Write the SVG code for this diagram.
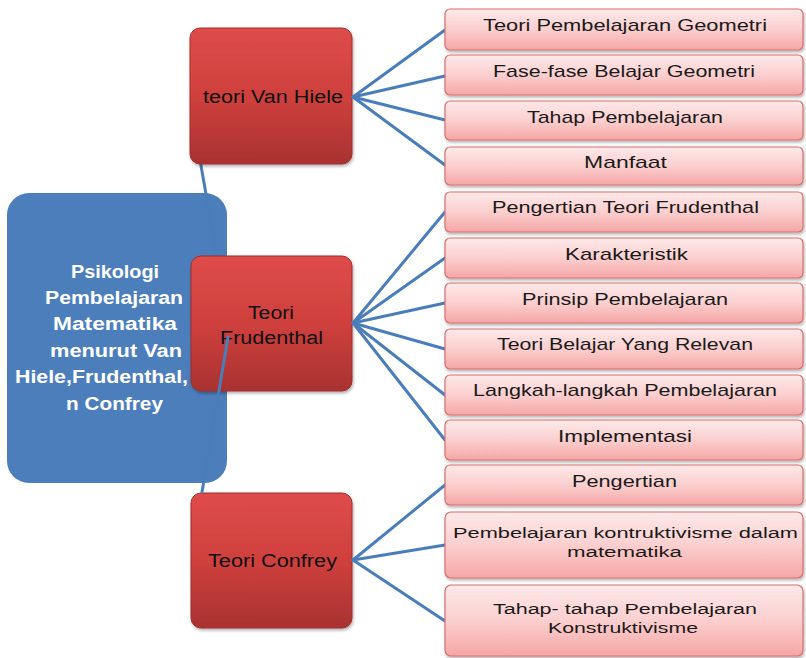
<svg xmlns="http://www.w3.org/2000/svg" width="806" height="658" viewBox="0 0 806 658">
<defs>
<linearGradient id="gRed" x1="0" y1="0" x2="0" y2="1">
<stop offset="0" stop-color="#de4d4a"/><stop offset="0.5" stop-color="#cf403d"/><stop offset="1" stop-color="#a93231"/>
</linearGradient>
<linearGradient id="gPink" x1="0" y1="0" x2="0" y2="1">
<stop offset="0" stop-color="#fde9e9"/><stop offset="0.5" stop-color="#fbcfcf"/><stop offset="1" stop-color="#f5a6a5"/>
</linearGradient>
<filter id="sh" x="-10%" y="-10%" width="130%" height="130%">
<feDropShadow dx="1" dy="2" stdDeviation="1.5" flood-color="#000" flood-opacity="0.3"/>
</filter>
</defs>
<style>
.root{fill:#4c7ebc}
.red{fill:url(#gRed);stroke:#9e2e2d;stroke-width:1;filter:url(#sh)}
.leaf{fill:url(#gPink);stroke:#d8706e;stroke-width:1.2;filter:url(#sh)}
.c{stroke:#4a7ebb;stroke-width:3;fill:none;stroke-linecap:round}
.rt{font-family:"Liberation Sans",Arial,sans-serif;font-weight:bold;font-size:18px;fill:#ffffff}
.mt{font-family:"Liberation Sans",Arial,sans-serif;font-size:18px;fill:#111111}
.lt{font-family:"Liberation Sans",Arial,sans-serif;font-size:17px;fill:#1a1a1a}
.lt2{font-family:"Liberation Sans",Arial,sans-serif;font-size:15.5px;fill:#1a1a1a}
</style>
<rect width="806" height="658" fill="#ffffff"/>

<g id="root">
<rect class="root" x="7" y="193" width="220" height="290" rx="22"/>
<text class="rt" x="71" y="278" textLength="88" lengthAdjust="spacingAndGlyphs">Psikologi</text>
<text class="rt" x="45" y="304" textLength="138" lengthAdjust="spacingAndGlyphs">Pembelajaran</text>
<text class="rt" x="53" y="330" textLength="124" lengthAdjust="spacingAndGlyphs">Matematika</text>
<text class="rt" x="50" y="357" textLength="132" lengthAdjust="spacingAndGlyphs">menurut Van</text>
<text class="rt" x="15" y="383" textLength="173" lengthAdjust="spacingAndGlyphs">Hiele,Frudenthal,</text>
<text class="rt" x="66" y="410" textLength="97" lengthAdjust="spacingAndGlyphs">n Confrey</text>
</g>

<g id="connectors-root">
<line class="c" x1="200" y1="160" x2="218" y2="262"/>
</g>

<g id="vanhiele">
<rect class="red" x="190" y="28" width="162" height="136" rx="10"/>
<text class="mt" x="203" y="103" textLength="140" lengthAdjust="spacingAndGlyphs">teori Van Hiele</text>
</g>
<g id="frudenthal">
<rect class="red" x="191" y="256" width="161" height="135" rx="10"/>
<text class="mt" x="248" y="319" textLength="46" lengthAdjust="spacingAndGlyphs">Teori</text>
<text class="mt" x="220" y="344" textLength="103" lengthAdjust="spacingAndGlyphs">Frudenthal</text>
</g>
<g id="confrey">
<rect class="red" x="191" y="493" width="161" height="135" rx="10"/>
<text class="mt" x="208" y="567" textLength="129" lengthAdjust="spacingAndGlyphs">Teori Confrey</text>
</g>

<g id="connectors">
<line class="c" x1="228" y1="337" x2="202" y2="492"/>
<line class="c" x1="353" y1="97" x2="445" y2="30"/>
<line class="c" x1="353" y1="97" x2="445" y2="76"/>
<line class="c" x1="353" y1="97" x2="445" y2="120"/>
<line class="c" x1="353" y1="97" x2="445" y2="165"/>
<line class="c" x1="353" y1="323" x2="445" y2="212"/>
<line class="c" x1="353" y1="323" x2="445" y2="258"/>
<line class="c" x1="353" y1="323" x2="445" y2="303"/>
<line class="c" x1="353" y1="323" x2="445" y2="349"/>
<line class="c" x1="353" y1="323" x2="445" y2="395"/>
<line class="c" x1="353" y1="323" x2="445" y2="440"/>
<line class="c" x1="353" y1="560" x2="445" y2="485"/>
<line class="c" x1="353" y1="560" x2="445" y2="545"/>
<line class="c" x1="353" y1="560" x2="445" y2="621"/>
</g>

<g id="leaf1"><rect class="leaf" x="445" y="9" width="358" height="41" rx="5"/><text class="lt" x="483" y="31" textLength="284" lengthAdjust="spacingAndGlyphs">Teori Pembelajaran Geometri</text></g>
<g id="leaf2"><rect class="leaf" x="445" y="55" width="358" height="40" rx="5"/><text class="lt" x="493" y="77" textLength="262" lengthAdjust="spacingAndGlyphs">Fase-fase Belajar Geometri</text></g>
<g id="leaf3"><rect class="leaf" x="445" y="101" width="358" height="39" rx="5"/><text class="lt" x="527" y="123" textLength="196" lengthAdjust="spacingAndGlyphs">Tahap Pembelajaran</text></g>
<g id="leaf4"><rect class="leaf" x="445" y="147" width="358" height="38" rx="5"/><text class="lt" x="584" y="168" textLength="83" lengthAdjust="spacingAndGlyphs">Manfaat</text></g>
<g id="leaf5"><rect class="leaf" x="445" y="192" width="358" height="40" rx="5"/><text class="lt" x="492" y="213" textLength="267" lengthAdjust="spacingAndGlyphs">Pengertian Teori Frudenthal</text></g>
<g id="leaf6"><rect class="leaf" x="445" y="238" width="358" height="40" rx="5"/><text class="lt" x="565" y="260" textLength="123" lengthAdjust="spacingAndGlyphs">Karakteristik</text></g>
<g id="leaf7"><rect class="leaf" x="445" y="283" width="358" height="40" rx="5"/><text class="lt" x="522" y="305" textLength="206" lengthAdjust="spacingAndGlyphs">Prinsip Pembelajaran</text></g>
<g id="leaf8"><rect class="leaf" x="445" y="329" width="358" height="40" rx="5"/><text class="lt" x="497" y="350" textLength="256" lengthAdjust="spacingAndGlyphs">Teori Belajar Yang Relevan</text></g>
<g id="leaf9"><rect class="leaf" x="445" y="375" width="358" height="40" rx="5"/><text class="lt" x="473" y="396" textLength="304" lengthAdjust="spacingAndGlyphs">Langkah-langkah Pembelajaran</text></g>
<g id="leaf10"><rect class="leaf" x="445" y="420" width="358" height="40" rx="5"/><text class="lt" x="558" y="442" textLength="134" lengthAdjust="spacingAndGlyphs">Implementasi</text></g>
<g id="leaf11"><rect class="leaf" x="445" y="465" width="358" height="40" rx="5"/><text class="lt" x="572" y="487" textLength="105" lengthAdjust="spacingAndGlyphs">Pengertian</text></g>
<g id="leaf12"><rect class="leaf" x="445" y="512" width="358" height="66" rx="6"/><text class="lt2" x="453" y="538" textLength="345" lengthAdjust="spacingAndGlyphs">Pembelajaran kontruktivisme dalam</text><text class="lt2" x="567" y="557" textLength="115" lengthAdjust="spacingAndGlyphs">matematika</text></g>
<g id="leaf13"><rect class="leaf" x="445" y="585" width="358" height="71" rx="6"/><text class="lt2" x="493" y="614" textLength="264" lengthAdjust="spacingAndGlyphs">Tahap- tahap Pembelajaran</text><text class="lt2" x="548" y="633" textLength="150" lengthAdjust="spacingAndGlyphs">Konstruktivisme</text></g>
</svg>
